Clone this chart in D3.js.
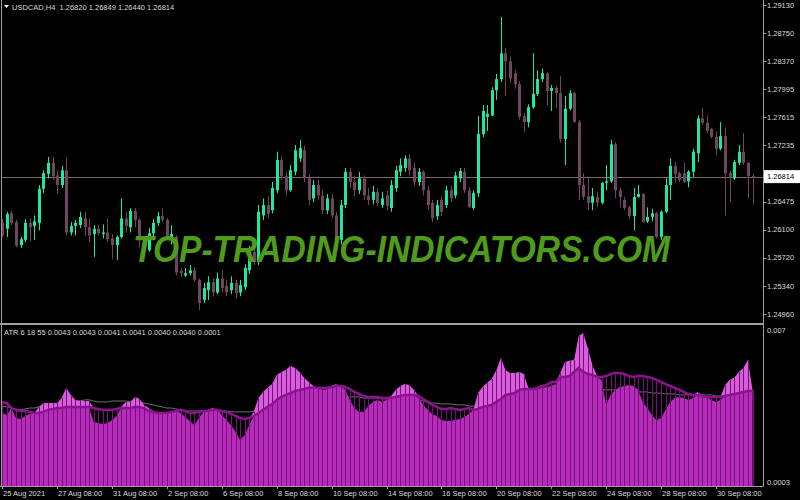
<!DOCTYPE html>
<html>
<head>
<meta charset="utf-8">
<script src="https://d3js.org/d3.v7.min.js"></script>
<style>
  body { margin: 0; background: #000; }
  svg { display: block; font-family: "Liberation Sans", Arial, sans-serif; }
</style>
</head>
<body>
<div id="chart"></div>
<script>
const symbolTitle = "USDCAD,H4";
const lastBar = [1.26820, 1.26849, 1.26440, 1.26814];
const atrTitle = "ATR 6 18 55";
const atrReadings = ["0.0043", "0.0043", "0.0041", "0.0041", "0.0040", "0.0040", "0.0001"];

const openP = [
  1.2619, 1.2611, 1.2632, 1.2620, 1.2589, 1.2596, 1.2619, 1.2615, 1.2619, 1.2665,
  1.2685, 1.2700, 1.2683, 1.2670, 1.2690, 1.2606, 1.2615, 1.2616, 1.2625, 1.2613,
  1.2604, 1.2611, 1.2604, 1.2606, 1.2598, 1.2589, 1.2600, 1.2625, 1.2613, 1.2635,
  1.2623, 1.2596, 1.2582, 1.2605, 1.2619, 1.2628, 1.2623, 1.2596, 1.2600, 1.2554,
  1.2548, 1.2551, 1.2555, 1.2542, 1.2515, 1.2528, 1.2539, 1.2525, 1.2544, 1.2534,
  1.2528, 1.2538, 1.2525, 1.2532, 1.2555, 1.2580, 1.2566, 1.2629, 1.2643, 1.2636,
  1.2663, 1.2704, 1.2682, 1.2663, 1.2688, 1.2706, 1.2717, 1.2679, 1.2652, 1.2670,
  1.2656, 1.2636, 1.2652, 1.2629, 1.2596, 1.2643, 1.2688, 1.2674, 1.2663, 1.2679,
  1.2656, 1.2650, 1.2661, 1.2643, 1.2656, 1.2639, 1.2666, 1.2688, 1.2693, 1.2706,
  1.2693, 1.2674, 1.2688, 1.2663, 1.2646, 1.2628, 1.2650, 1.2643, 1.2663, 1.2656,
  1.2679, 1.2688, 1.2663, 1.2639, 1.2659, 1.2739, 1.2762, 1.2764, 1.2798, 1.2813,
  1.2848, 1.2837, 1.2821, 1.2806, 1.2763, 1.2755, 1.2775, 1.2793, 1.2813, 1.2821,
  1.2797, 1.2801, 1.2794, 1.2732, 1.2773, 1.2794, 1.2755, 1.2670, 1.2655, 1.2646,
  1.2654, 1.2646, 1.2673, 1.2675, 1.2725, 1.2663, 1.2650, 1.2640, 1.2628, 1.2654,
  1.2658, 1.2621, 1.2627, 1.2632, 1.2600, 1.2634, 1.2670, 1.2696, 1.2686, 1.2686,
  1.2675, 1.2688, 1.2713, 1.2760, 1.2754, 1.2746, 1.2735, 1.2719, 1.2736, 1.2686,
  1.2679, 1.2700, 1.2715, 1.2700, 1.26820
];
const highP = [
  1.2624, 1.2634, 1.2636, 1.2623, 1.2600, 1.2624, 1.2625, 1.2629, 1.2670, 1.2690,
  1.2708, 1.2708, 1.2690, 1.2696, 1.2706, 1.2620, 1.2623, 1.2634, 1.2634, 1.2625,
  1.2616, 1.2616, 1.2617, 1.2625, 1.2604, 1.2602, 1.2652, 1.2634, 1.2639, 1.2639,
  1.2625, 1.2601, 1.2612, 1.2624, 1.2634, 1.2638, 1.2625, 1.2616, 1.2602, 1.2558,
  1.2558, 1.2562, 1.2559, 1.2544, 1.2538, 1.2547, 1.2544, 1.2552, 1.2555, 1.2542,
  1.2547, 1.2542, 1.2542, 1.2563, 1.2588, 1.2588, 1.2643, 1.2652, 1.2655, 1.2674,
  1.2715, 1.2709, 1.2688, 1.2697, 1.2724, 1.2731, 1.2723, 1.2685, 1.2677, 1.2677,
  1.2663, 1.2658, 1.2658, 1.2634, 1.2650, 1.2693, 1.2693, 1.2682, 1.2688, 1.2683,
  1.2666, 1.2669, 1.2666, 1.2661, 1.2663, 1.2677, 1.2696, 1.2706, 1.2710, 1.2712,
  1.2700, 1.2693, 1.2690, 1.2669, 1.2650, 1.2650, 1.2655, 1.2669, 1.2669, 1.2688,
  1.2693, 1.2693, 1.2667, 1.2663, 1.2763, 1.2778, 1.2778, 1.2802, 1.2820, 1.2897,
  1.2855, 1.2843, 1.2825, 1.2810, 1.2767, 1.2779, 1.2848, 1.2825, 1.2827, 1.2822,
  1.2805, 1.2804, 1.2817, 1.2790, 1.2798, 1.2796, 1.2758, 1.2686, 1.2681, 1.2666,
  1.2661, 1.2674, 1.2697, 1.2731, 1.2728, 1.2666, 1.2654, 1.2642, 1.2666, 1.2670,
  1.2659, 1.2640, 1.2638, 1.2634, 1.2636, 1.2679, 1.2706, 1.2701, 1.2688, 1.2700,
  1.2690, 1.2719, 1.2764, 1.2774, 1.2764, 1.2747, 1.2742, 1.2755, 1.2748, 1.2689,
  1.2704, 1.2724, 1.2740, 1.2701, 1.26849
];
const lowP = [
  1.2600, 1.2600, 1.2616, 1.2586, 1.2585, 1.2593, 1.2594, 1.2596, 1.2609, 1.2659,
  1.2679, 1.2677, 1.2658, 1.2666, 1.2602, 1.2602, 1.2602, 1.2612, 1.2601, 1.2593,
  1.2573, 1.2602, 1.2598, 1.2593, 1.2570, 1.2569, 1.2598, 1.2606, 1.2606, 1.2613,
  1.2586, 1.2578, 1.2580, 1.2601, 1.2615, 1.2620, 1.2596, 1.2590, 1.2548, 1.2546,
  1.2546, 1.2548, 1.2539, 1.2501, 1.2511, 1.2515, 1.2520, 1.2523, 1.2525, 1.2520,
  1.2523, 1.2517, 1.2520, 1.2528, 1.2550, 1.2562, 1.2562, 1.2623, 1.2625, 1.2632,
  1.2659, 1.2677, 1.2656, 1.2661, 1.2683, 1.2701, 1.2674, 1.2643, 1.2647, 1.2650,
  1.2631, 1.2631, 1.2625, 1.2589, 1.2590, 1.2639, 1.2666, 1.2655, 1.2658, 1.2650,
  1.2643, 1.2644, 1.2642, 1.2639, 1.2636, 1.2634, 1.2661, 1.2682, 1.2688, 1.2683,
  1.2669, 1.2669, 1.2656, 1.2636, 1.2620, 1.2623, 1.2628, 1.2639, 1.2647, 1.2652,
  1.2674, 1.2659, 1.2639, 1.2636, 1.2654, 1.2735, 1.2743, 1.2763, 1.2785, 1.2809,
  1.2790, 1.2808, 1.2800, 1.2758, 1.2741, 1.2748, 1.2773, 1.2790, 1.2809, 1.2777,
  1.2770, 1.2774, 1.2727, 1.2697, 1.2771, 1.2754, 1.2650, 1.2650, 1.2636, 1.2636,
  1.2640, 1.2644, 1.2663, 1.2673, 1.2652, 1.2640, 1.2636, 1.2625, 1.2609, 1.2653,
  1.2619, 1.2619, 1.2621, 1.2598, 1.2596, 1.2632, 1.2650, 1.2674, 1.2674, 1.2673,
  1.2667, 1.2681, 1.2701, 1.2751, 1.2740, 1.2733, 1.2710, 1.2717, 1.2629, 1.2647,
  1.2677, 1.2697, 1.2697, 1.2652, 1.26440
];
const closeP = [
  1.2602, 1.2631, 1.2619, 1.2588, 1.2597, 1.2619, 1.2613, 1.2621, 1.2665, 1.2686,
  1.2700, 1.2682, 1.2670, 1.2690, 1.2606, 1.2615, 1.2619, 1.2627, 1.2613, 1.2602,
  1.2611, 1.2605, 1.2606, 1.2597, 1.2589, 1.2600, 1.2625, 1.2615, 1.2635, 1.2623,
  1.2596, 1.2582, 1.2605, 1.2619, 1.2628, 1.2623, 1.2600, 1.2604, 1.2552, 1.2551,
  1.2551, 1.2555, 1.2542, 1.2511, 1.2531, 1.2539, 1.2525, 1.2544, 1.2531, 1.2525,
  1.2538, 1.2524, 1.2535, 1.2558, 1.2580, 1.2566, 1.2634, 1.2643, 1.2631, 1.2666,
  1.2704, 1.2682, 1.2663, 1.2690, 1.2717, 1.2720, 1.2679, 1.2650, 1.2670, 1.2656,
  1.2636, 1.2652, 1.2629, 1.2596, 1.2643, 1.2688, 1.2674, 1.2663, 1.2679, 1.2656,
  1.2650, 1.2661, 1.2646, 1.2652, 1.2642, 1.2670, 1.2690, 1.2697, 1.2706, 1.2690,
  1.2674, 1.2688, 1.2663, 1.2643, 1.2625, 1.2643, 1.2634, 1.2663, 1.2652, 1.2683,
  1.2689, 1.2663, 1.2640, 1.2659, 1.2739, 1.2770, 1.2766, 1.2798, 1.2813, 1.2848,
  1.2837, 1.2814, 1.2806, 1.2762, 1.2755, 1.2775, 1.2793, 1.2813, 1.2821, 1.2797,
  1.2801, 1.2794, 1.2732, 1.2773, 1.2794, 1.2755, 1.2670, 1.2654, 1.2646, 1.2655,
  1.2646, 1.2673, 1.2675, 1.2725, 1.2663, 1.2654, 1.2639, 1.2628, 1.2654, 1.2658,
  1.2620, 1.2627, 1.2632, 1.2600, 1.2634, 1.2670, 1.2696, 1.2685, 1.2677, 1.2674,
  1.2688, 1.2715, 1.2760, 1.2754, 1.2743, 1.2735, 1.2719, 1.2736, 1.2686, 1.2681,
  1.2701, 1.2715, 1.2700, 1.2682, 1.26814
];

// ATR(6) fast, ATR(18) slow, ATR(55)
const atrFast = [
  0.00334, 0.00325, 0.00356, 0.00312, 0.00308, 0.00321, 0.00330, 0.00334, 0.00361, 0.00378,
  0.00378, 0.00378, 0.00378, 0.00400, 0.00445, 0.00414, 0.00392, 0.00387, 0.00387, 0.00387,
  0.00295, 0.00290, 0.00286, 0.00290, 0.00303, 0.00321, 0.00361, 0.00383, 0.00383, 0.00405,
  0.00396, 0.00370, 0.00356, 0.00343, 0.00334, 0.00334, 0.00334, 0.00334, 0.00343, 0.00334,
  0.00317, 0.00299, 0.00281, 0.00312, 0.00339, 0.00348, 0.00356, 0.00348, 0.00325, 0.00303,
  0.00281, 0.00251, 0.00215, 0.00237, 0.00281, 0.00339, 0.00400, 0.00427, 0.00445, 0.00462,
  0.00502, 0.00515, 0.00524, 0.00542, 0.00533, 0.00515, 0.00489, 0.00471, 0.00453, 0.00445,
  0.00436, 0.00440, 0.00453, 0.00462, 0.00453, 0.00436, 0.00392, 0.00356, 0.00339, 0.00339,
  0.00365, 0.00383, 0.00392, 0.00383, 0.00392, 0.00409, 0.00436, 0.00453, 0.00462, 0.00458,
  0.00436, 0.00400, 0.00370, 0.00348, 0.00330, 0.00321, 0.00303, 0.00299, 0.00299, 0.00303,
  0.00308, 0.00317, 0.00330, 0.00348, 0.00422, 0.00449, 0.00467, 0.00484, 0.00524, 0.00577,
  0.00524, 0.00511, 0.00511, 0.00515, 0.00506, 0.00445, 0.00436, 0.00440, 0.00445, 0.00449,
  0.00453, 0.00462, 0.00511, 0.00559, 0.00564, 0.00568, 0.00674, 0.00687, 0.00621, 0.00546,
  0.00497, 0.00480, 0.00370, 0.00414, 0.00436, 0.00449, 0.00453, 0.00458, 0.00453, 0.00436,
  0.00383, 0.00356, 0.00325, 0.00303, 0.00312, 0.00348, 0.00383, 0.00400, 0.00405, 0.00400,
  0.00392, 0.00400, 0.00427, 0.00414, 0.00405, 0.00392, 0.00383, 0.00392, 0.00458, 0.00480,
  0.00489, 0.00515, 0.00533, 0.00568, 0.00436
];
const atrSlow = [
  0.00383, 0.00378, 0.00356, 0.00348, 0.00343, 0.00343, 0.00339, 0.00334, 0.00334, 0.00339,
  0.00348, 0.00352, 0.00356, 0.00356, 0.00361, 0.00361, 0.00361, 0.00361, 0.00361, 0.00361,
  0.00356, 0.00352, 0.00348, 0.00348, 0.00348, 0.00352, 0.00356, 0.00356, 0.00356, 0.00361,
  0.00361, 0.00356, 0.00343, 0.00339, 0.00334, 0.00334, 0.00334, 0.00339, 0.00343, 0.00348,
  0.00343, 0.00334, 0.00334, 0.00339, 0.00343, 0.00343, 0.00348, 0.00348, 0.00343, 0.00339,
  0.00330, 0.00321, 0.00312, 0.00308, 0.00312, 0.00321, 0.00334, 0.00348, 0.00361, 0.00374,
  0.00392, 0.00405, 0.00414, 0.00422, 0.00431, 0.00436, 0.00440, 0.00445, 0.00445, 0.00445,
  0.00445, 0.00445, 0.00449, 0.00453, 0.00453, 0.00449, 0.00440, 0.00427, 0.00418, 0.00409,
  0.00405, 0.00405, 0.00405, 0.00400, 0.00400, 0.00400, 0.00405, 0.00409, 0.00414, 0.00414,
  0.00414, 0.00409, 0.00396, 0.00383, 0.00370, 0.00361, 0.00352, 0.00352, 0.00356, 0.00352,
  0.00348, 0.00352, 0.00356, 0.00348, 0.00352, 0.00361, 0.00365, 0.00370, 0.00383, 0.00396,
  0.00414, 0.00418, 0.00422, 0.00436, 0.00440, 0.00440, 0.00440, 0.00445, 0.00453, 0.00458,
  0.00471, 0.00471, 0.00493, 0.00493, 0.00497, 0.00515, 0.00533, 0.00515, 0.00506, 0.00502,
  0.00493, 0.00493, 0.00497, 0.00506, 0.00511, 0.00511, 0.00506, 0.00497, 0.00493, 0.00497,
  0.00497, 0.00493, 0.00489, 0.00480, 0.00471, 0.00462, 0.00453, 0.00445, 0.00436, 0.00427,
  0.00418, 0.00414, 0.00414, 0.00409, 0.00405, 0.00405, 0.00405, 0.00405, 0.00409, 0.00414,
  0.00418, 0.00422, 0.00427, 0.00431, 0.00431
];
const atrLong = [
  0.00365, 0.00361, 0.00356, 0.00352, 0.00348, 0.00352, 0.00356, 0.00356, 0.00361, 0.00365,
  0.00370, 0.00370, 0.00374, 0.00378, 0.00383, 0.00383, 0.00387, 0.00387, 0.00392, 0.00392,
  0.00387, 0.00383, 0.00383, 0.00383, 0.00387, 0.00387, 0.00387, 0.00387, 0.00383, 0.00383,
  0.00383, 0.00378, 0.00374, 0.00370, 0.00365, 0.00361, 0.00356, 0.00356, 0.00352, 0.00348,
  0.00343, 0.00343, 0.00343, 0.00343, 0.00343, 0.00343, 0.00343, 0.00343, 0.00343, 0.00343,
  0.00339, 0.00339, 0.00339, 0.00339, 0.00339, 0.00343, 0.00348, 0.00352, 0.00356, 0.00361,
  0.00365, 0.00370, 0.00374, 0.00378, 0.00383, 0.00387, 0.00392, 0.00392, 0.00396, 0.00396,
  0.00396, 0.00400, 0.00400, 0.00405, 0.00405, 0.00405, 0.00405, 0.00405, 0.00405, 0.00400,
  0.00400, 0.00400, 0.00400, 0.00396, 0.00396, 0.00396, 0.00396, 0.00396, 0.00396, 0.00396,
  0.00392, 0.00392, 0.00387, 0.00383, 0.00378, 0.00378, 0.00374, 0.00374, 0.00374, 0.00370,
  0.00370, 0.00370, 0.00365, 0.00365, 0.00365, 0.00370, 0.00370, 0.00374, 0.00374, 0.00378,
  0.00383, 0.00387, 0.00392, 0.00392, 0.00396, 0.00396, 0.00400, 0.00400, 0.00405, 0.00405,
  0.00409, 0.00409, 0.00414, 0.00414, 0.00418, 0.00422, 0.00427, 0.00431, 0.00431, 0.00436,
  0.00436, 0.00436, 0.00436, 0.00436, 0.00436, 0.00436, 0.00431, 0.00431, 0.00431, 0.00427,
  0.00427, 0.00427, 0.00422, 0.00422, 0.00422, 0.00418, 0.00418, 0.00418, 0.00414, 0.00414,
  0.00414, 0.00414, 0.00414, 0.00414, 0.00414, 0.00414, 0.00409, 0.00409, 0.00409, 0.00409,
  0.00405, 0.00405, 0.00405, 0.00405, 0.00400
];

// 1.26855 sits under the current-price box in MT4, so it is left out
const priceTicks = [1.29130, 1.28750, 1.28370, 1.27995, 1.27615, 1.27235, 1.26475, 1.26100, 1.25720, 1.25340, 1.24960];
const atrTicks = ["0.007", "0.0003"];
const timeLabels = ["25 Aug 2021", "27 Aug 08:00", "31 Aug 08:00", "2 Sep 08:00", "6 Sep 08:00", "8 Sep 08:00", "10 Sep 08:00",
  "14 Sep 08:00", "16 Sep 08:00", "20 Sep 08:00", "22 Sep 08:00", "24 Sep 08:00", "28 Sep 08:00", "30 Sep 08:00"];
const barsPerLabel = 12;
const watermark = "TOP-TRADING-INDICATORS.COM";

function crearGraficoMT4() {
    const width = 800, height = 500;
    const axisX = 763.5;
    const priceBottom = 323;
    const atrTop = 326, atrBase = 486;

    const bars = openP.map((o, i) => ({ i, o, h: highP[i], l: lowP[i], c: closeP[i],
        f: atrFast[i], s: atrSlow[i], g: atrLong[i] }));

    const x = d3.scaleLinear().domain([0, bars.length - 1]).range([2.2, 752.5]);
    const y = d3.scaleLinear().domain([1.24960, 1.29130]).range([314, 5]);
    const ya = d3.scaleLinear().domain([0.0003, 0.007]).range([482, 330]);
    const px = (i) => Math.round(x(i));

    const svg = d3.select("#chart").append("svg")
        .attr("width", width)
        .attr("height", height)
        .style("background", "#000");

    const defs = svg.append("defs");
    defs.append("clipPath").attr("id", "clipPrice")
        .append("rect").attr("x", 2).attr("y", 0).attr("width", axisX - 2).attr("height", priceBottom);
    defs.append("clipPath").attr("id", "clipAtr")
        .append("rect").attr("x", 2).attr("y", atrTop).attr("width", axisX - 2).attr("height", atrBase - atrTop);

    // price pane
    const price = svg.append("g").attr("clip-path", "url(#clipPrice)");

    price.append("line")
        .attr("x1", 0).attr("x2", axisX)
        .attr("y1", Math.round(y(lastBar[3])) + 0.5).attr("y2", Math.round(y(lastBar[3])) + 0.5)
        .attr("stroke", "#7d6673");

    const candle = price.selectAll("g.candle")
        .data(bars)
        .join("g")
        .attr("class", "candle")
        .attr("fill", d => d.c >= d.o ? "#1de8a2" : "#6e465f")
        .attr("stroke", d => d.c >= d.o ? "#1de8a2" : "#6e465f");

    candle.append("line")
        .attr("x1", d => px(d.i) + 0.5).attr("x2", d => px(d.i) + 0.5)
        .attr("y1", d => y(d.h)).attr("y2", d => y(d.l))
        .attr("stroke-width", 1);

    candle.append("rect")
        .attr("x", d => px(d.i) - 1)
        .attr("width", 3)
        .attr("y", d => y(Math.max(d.o, d.c)))
        .attr("height", d => Math.max(1, Math.abs(y(d.o) - y(d.c))))
        .attr("stroke", "none");

    svg.append("text")
        .attr("x", 133).attr("y", 262)
        .attr("textLength", 537)
        .attr("lengthAdjust", "spacingAndGlyphs")
        .style("font-size", "37px")
        .style("font-weight", "bold")
        .style("font-style", "italic")
        .attr("fill", "#4e9c1a")
        .text(watermark);

    // ATR pane
    const atr = svg.append("g").attr("clip-path", "url(#clipAtr)");

    atr.append("path")
        .datum(bars)
        .attr("fill", "none")
        .attr("stroke", "#6e6e6e")
        .attr("stroke-width", 1)
        .attr("d", d3.line().x(d => x(d.i)).y(d => ya(d.g)));

    atr.append("path")
        .datum(bars)
        .attr("fill", "#d65edb")
        .attr("d", d3.area().x(d => x(d.i)).y0(d => ya(d.s)).y1(d => ya(Math.max(d.f, d.s))));

    atr.append("path")
        .datum(bars)
        .attr("fill", "#b52cba")
        .attr("d", d3.area().x(d => x(d.i)).y0(atrBase).y1(d => ya(Math.min(d.f, d.s))));

    atr.selectAll("line.hist")
        .data(bars)
        .join("line")
        .attr("class", "hist")
        .attr("x1", d => px(d.i) + 0.5).attr("x2", d => px(d.i) + 0.5)
        .attr("y1", atrBase).attr("y2", d => ya(Math.max(d.f, d.s)))
        .attr("stroke", "#7a0c7e")
        .attr("stroke-width", 1);

    atr.append("path")
        .datum(bars)
        .attr("fill", "none")
        .attr("stroke", "#8c128f")
        .attr("stroke-width", 2.5)
        .attr("d", d3.line().x(d => x(d.i)).y(d => ya(d.s)));

    // frame
    const frame = svg.append("g").attr("stroke", "#a0a0a0").attr("stroke-width", 1);
    frame.append("line").attr("x1", 1.5).attr("x2", 1.5).attr("y1", 0).attr("y2", atrBase);
    frame.append("line").attr("x1", axisX).attr("x2", axisX).attr("y1", 0).attr("y2", atrBase + 0.5);
    frame.append("line").attr("x1", 0).attr("x2", axisX).attr("y1", atrBase + 0.5).attr("y2", atrBase + 0.5);
    frame.append("line").attr("x1", 0).attr("x2", axisX).attr("y1", 324).attr("y2", 324).attr("stroke-width", 2);

    // price axis
    const pAxis = svg.append("g");
    pAxis.selectAll("line")
        .data(priceTicks)
        .join("line")
        .attr("x1", axisX).attr("x2", axisX + 3)
        .attr("y1", d => Math.round(y(d)) + 0.5).attr("y2", d => Math.round(y(d)) + 0.5)
        .attr("stroke", "#a0a0a0");
    pAxis.selectAll("text")
        .data(priceTicks)
        .join("text")
        .attr("x", 767).attr("y", d => y(d) + 2.7)
        .attr("fill", "#d8d8d8")
        .style("font-size", "7.5px")
        .text(d => d.toFixed(5));

    svg.append("rect")
        .attr("x", axisX + 0.5).attr("y", y(lastBar[3]) - 6.5)
        .attr("width", 36).attr("height", 13)
        .attr("fill", "#ffffff");
    svg.append("text")
        .attr("x", 767).attr("y", y(lastBar[3]) + 2.7)
        .attr("fill", "#000")
        .style("font-size", "7.5px")
        .text(lastBar[3].toFixed(5));

    // ATR axis
    svg.selectAll("text.atrTick")
        .data(atrTicks)
        .join("text")
        .attr("class", "atrTick")
        .attr("x", 767).attr("y", d => ya(+d) + 2.7)
        .attr("fill", "#d8d8d8")
        .style("font-size", "7.5px")
        .text(d => d);

    // time axis
    const tAxis = svg.append("g");
    tAxis.selectAll("line")
        .data(timeLabels)
        .join("line")
        .attr("x1", (d, k) => px(k * barsPerLabel) + 0.5).attr("x2", (d, k) => px(k * barsPerLabel) + 0.5)
        .attr("y1", atrBase).attr("y2", atrBase + 3)
        .attr("stroke", "#a0a0a0");
    tAxis.selectAll("text")
        .data(timeLabels)
        .join("text")
        .attr("x", (d, k) => px(k * barsPerLabel) + 1)
        .attr("y", 495.5)
        .attr("fill", "#d8d8d8")
        .style("font-size", "7.5px")
        .text(d => d);

    // titles
    svg.append("path")
        .attr("d", "M4,5 L9,5 L6.5,8 Z")
        .attr("fill", "#ffffff");
    svg.append("text")
        .attr("x", 12).attr("y", 9.5)
        .attr("fill", "#d8d8d8")
        .style("font-size", "7.5px")
        .attr("xml:space", "preserve")
        .text(symbolTitle + "  " + lastBar.map(v => v.toFixed(5)).join(" "));
    svg.append("text")
        .attr("x", 4).attr("y", 334.5)
        .attr("fill", "#d8d8d8")
        .style("font-size", "7.5px")
        .text(atrTitle + " " + atrReadings.join(" "));
}

crearGraficoMT4();
</script>
</body>
</html>
